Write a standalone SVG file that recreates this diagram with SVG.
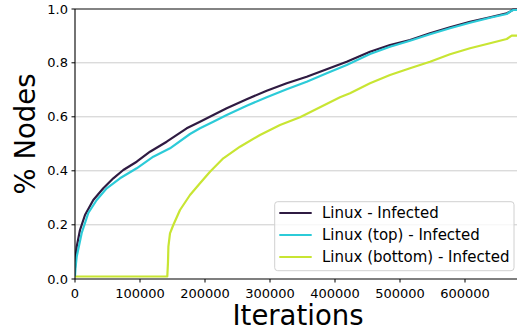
<svg xmlns="http://www.w3.org/2000/svg" width="517" height="334" viewBox="0 0 517 334">
<style>
text{font-family:"DejaVu Sans","Liberation Sans",sans-serif;fill:#000}
.tick{font-size:13px}
.grid{stroke:#cccccc;stroke-width:1;fill:none}
.spine{stroke:#000;stroke-width:1.1;fill:none}
.tk{stroke:#000;stroke-width:1;fill:none}
.curve{fill:none;stroke-width:2.2;stroke-linejoin:round;stroke-linecap:butt}
.c1{stroke:#2f1b42}
.c2{stroke:#2ccbd8}
.c3{stroke:#c8e533}
.leg{font-size:15px}
.lab{font-size:27.5px}
</style>
<defs>
<clipPath id="ax"><rect x="75" y="7" width="442" height="273"/></clipPath>
</defs>
<rect width="517" height="334" fill="#fff"/>
<g id="grid">
<line class="grid" x1="75" y1="62.8" x2="517" y2="62.8"/>
<line class="grid" x1="75" y1="116.8" x2="517" y2="116.8"/>
<line class="grid" x1="75" y1="170.8" x2="517" y2="170.8"/>
<line class="grid" x1="75" y1="224.8" x2="517" y2="224.8"/>
<line x1="75" y1="9" x2="517" y2="9" stroke="#5a5a5a" stroke-width="1.3"/>
</g>
<g id="connectors" clip-path="url(#ax)">
<polyline class="curve c3" points="75,276.5 167.3,276.5 168,262 168.4,246.7 170,233.3 173.3,225 180,210 190,195 200,183.3 210,171.7 223.3,158.3 240,146.7 260,135 280,125 300,117.3 320,107.3 340,97.3 350,93.3 370,83.3 390,75 410,68.3 430,61.7 450,54.3 470,48.3 490,43.3 506.7,39 511.7,35.7 517,35.7"/>
<polyline class="curve c1" points="75,268 75.6,258 76.7,246.7 80,230 85,215 93.3,200 103.3,188.3 113.3,178.3 123.3,170 136.7,161.7 150,151.7 166.7,141.7 186.7,128.3 200,121.7 213.3,115 226.7,108.3 246.7,99.3 266.7,90.7 286.7,83.3 306.7,76.7 326.7,69.3 346.7,61.7 370,51.7 390,45 410,40 430,33.3 450,27.3 470,21.7 490,17.3 506.7,13.3 510,11.7 513.3,9.5 517,9.5"/>
<polyline class="curve c2" points="75,276 75.5,268 76.7,256.7 81.7,233 88.3,213 96.7,200 106.7,188.3 120,178.3 136.7,168.3 153.3,156.7 170,148.3 190,134 200,128.3 213.3,121.7 226.7,115 246.7,105.7 266.7,97.3 286.7,89.3 306.7,81.7 326.7,73.3 346.7,65 370,54 390,46.7 410,40.7 430,34.3 450,28.3 470,22.7 490,17.7 506.7,14 511.7,10.7 513.3,10 517,10"/>
</g>
<g id="axes">
<line class="spine" x1="75" y1="9" x2="75" y2="279"/>
<line class="spine" x1="75" y1="279" x2="517" y2="279"/>
<path class="tk" d="M71.5,9H75M71.5,62.8H75M71.5,116.8H75M71.5,170.8H75M71.5,224.8H75M71.5,279H75"/>
<path class="tk" d="M75,279V282.5M140,279V282.5M205,279V282.5M270,279V282.5M335,279V282.5M400,279V282.5M465,279V282.5"/>
<g class="tick" text-anchor="end">
<text x="68" y="13.5">1.0</text>
<text x="68" y="67.3">0.8</text>
<text x="68" y="121.3">0.6</text>
<text x="68" y="175.3">0.4</text>
<text x="68" y="229.3">0.2</text>
<text x="68" y="283.5">0.0</text>
</g>
<g class="tick" text-anchor="middle">
<text x="75" y="297.5">0</text>
<text x="140" y="297.5">100000</text>
<text x="205" y="297.5">200000</text>
<text x="270" y="297.5">300000</text>
<text x="335" y="297.5">400000</text>
<text x="400" y="297.5">500000</text>
<text x="465" y="297.5">600000</text>
</g>
<text class="lab" x="298" y="325" text-anchor="middle">Iterations</text>
<text class="lab" transform="translate(35,134) rotate(-90)" text-anchor="middle">% Nodes</text>
</g>
<g id="legend">
<rect x="274.7" y="201.7" width="239.3" height="69" rx="3" fill="#fff" fill-opacity="0.8" stroke="#d0d0d0" stroke-width="1"/>
<line class="curve c1" x1="279.3" y1="213" x2="311.7" y2="213"/>
<line class="curve c2" x1="279.3" y1="235" x2="311.7" y2="235"/>
<line class="curve c3" x1="279.3" y1="257" x2="311.7" y2="257"/>
<text class="leg" x="322" y="218.3">Linux - Infected</text>
<text class="leg" x="322" y="240.3">Linux (top) - Infected</text>
<text class="leg" x="322" y="262.3">Linux (bottom) - Infected</text>
</g>
</svg>
